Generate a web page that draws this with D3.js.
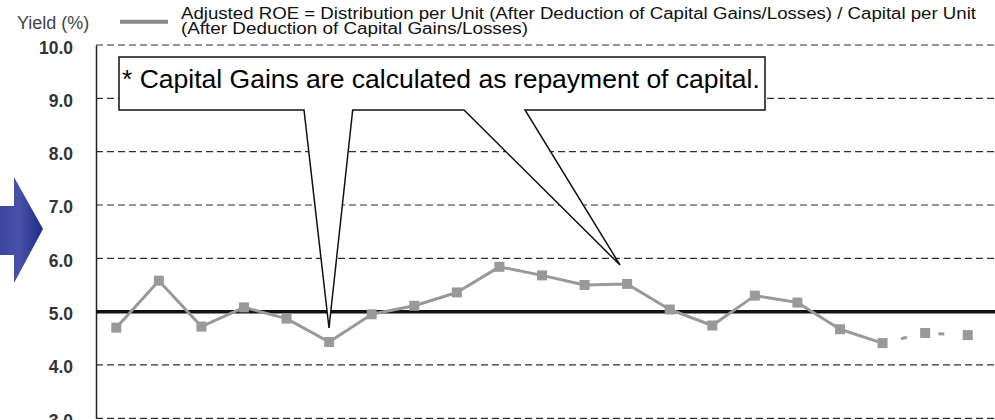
<!DOCTYPE html>
<html>
<head>
<meta charset="utf-8">
<script src="https://cdn.jsdelivr.net/npm/d3@7"></script>
<style>
  body { margin: 0; background: #fff; }
  svg { display: block; font-family: Arial, "Liberation Sans", sans-serif; }
</style>
</head>
<body>
<div id="roe-chart"></div>
<script>
// Adjusted ROE chart

// periods (no labels shown on the x axis)
const periods = [1, 2, 3, 4, 5, 6, 7, 8, 9, 10, 11, 12, 13, 14, 15, 16, 17, 18, 19, 20, 21];
// yield in %, the last two periods are forecasts
const roeValues = [4.70, 5.58, 4.72, 5.08, 4.87, 4.43, 4.95, 5.11, 5.36, 5.84, 5.68,
                   5.50, 5.52, 5.04, 4.74, 5.30, 5.17, 4.67, 4.41, 4.60, 4.56];
const forecastCount = 2;
const yTicks = [3.0, 4.0, 5.0, 6.0, 7.0, 8.0, 9.0, 10.0];
const targetLevel = 5.0;

const legendLines = [
    "Adjusted ROE = Distribution per Unit (After Deduction of Capital Gains/Losses) / Capital per Unit",
    "(After Deduction of Capital Gains/Losses)"
];
const calloutText = "* Capital Gains are calculated as repayment of capital.";

function createRoeChart() {
    const width = 995, height = 420;

    d3.select("#roe-chart").html("");

    const svg = d3.select("#roe-chart")
        .append("svg")
        .attr("width", width)
        .attr("height", height);

    // scales
    const x = d3.scalePoint()
        .domain(periods)
        .range([95, 989])
        .padding(0.5);

    const y = d3.scaleLinear()
        .domain([3, 10])
        .range([418.3, 45]);

    const plotLeft = 96, plotRight = width;

    // dashed gridlines
    svg.append("g")
        .selectAll("line")
        .data(yTicks)
        .enter()
        .append("line")
        .attr("x1", plotLeft)
        .attr("x2", plotRight)
        .attr("y1", d => y(d))
        .attr("y2", d => y(d))
        .attr("stroke", "#2e2e2e")
        .attr("stroke-width", 1.2)
        .attr("stroke-dasharray", "7,4");

    // y axis line + labels
    const yAxis = svg.append("g")
        .attr("transform", `translate(${plotLeft},0)`)
        .call(d3.axisLeft(y).tickValues(yTicks).tickSize(0).tickPadding(23).tickFormat(d3.format(".1f")));
    yAxis.select(".domain")
        .attr("stroke", "#222")
        .attr("stroke-width", 1.5);
    yAxis.selectAll("text")
        .attr("dy", null)
        .attr("y", 8)
        .style("font-family", "Arial, 'Liberation Sans', sans-serif")
        .style("font-size", "17.5px")
        .style("font-weight", "bold")
        .attr("fill", "#333");

    // axis title
    svg.append("text")
        .attr("x", 17)
        .attr("y", 28.5)
        .style("font-size", "18px")
        .attr("fill", "#444")
        .text("Yield (%)");

    // 5.0% reference line
    svg.append("line")
        .attr("x1", plotLeft)
        .attr("x2", plotRight)
        .attr("y1", y(targetLevel))
        .attr("y2", y(targetLevel))
        .attr("stroke", "#111")
        .attr("stroke-width", 3.5);

    // data line
    const points = periods.map((p, i) => ({period: p, value: roeValues[i]}));
    const splitAt = points.length - forecastCount - 1;
    const line = d3.line()
        .x(d => x(d.period))
        .y(d => y(d.value));

    svg.append("path")
        .attr("d", line(points.slice(0, splitAt + 1)))
        .attr("fill", "none")
        .attr("stroke", "#999")
        .attr("stroke-width", 3)
        .attr("stroke-linejoin", "round");

    svg.append("path")
        .attr("d", line(points.slice(splitAt)))
        .attr("fill", "none")
        .attr("stroke", "#999")
        .attr("stroke-width", 3)
        .attr("stroke-dasharray", "6,32")
        .attr("stroke-dashoffset", -19);

    const markerSize = 10;
    svg.selectAll(".marker")
        .data(points)
        .enter()
        .append("rect")
        .attr("class", "marker")
        .attr("x", d => x(d.period) - markerSize / 2)
        .attr("y", d => y(d.value) - markerSize / 2)
        .attr("width", markerSize)
        .attr("height", markerSize)
        .attr("fill", "#999");

    // legend
    svg.append("line")
        .attr("x1", 120)
        .attr("x2", 168)
        .attr("y1", 21.7)
        .attr("y2", 21.7)
        .attr("stroke", "#888")
        .attr("stroke-width", 4);

    const legendWidths = [795, 347];
    legendLines.forEach((t, i) => {
        svg.append("text")
            .attr("x", 181)
            .attr("y", 19.3 + i * 15)
            .attr("textLength", legendWidths[i])
            .attr("lengthAdjust", "spacingAndGlyphs")
            .style("font-size", "16px")
            .attr("fill", "#111")
            .text(t);
    });

    // left arrow
    const defs = svg.append("defs");
    const grad = defs.append("linearGradient")
        .attr("id", "arrow-grad")
        .attr("x1", "0%").attr("x2", "100%")
        .attr("y1", "0%").attr("y2", "0%");
    grad.append("stop").attr("offset", "0%").attr("stop-color", "#3a45a0");
    grad.append("stop").attr("offset", "45%").attr("stop-color", "#4851a7");
    grad.append("stop").attr("offset", "100%").attr("stop-color", "#1f2b8b");

    svg.append("path")
        .attr("d", "M0,206 L14,206 L14,177 L43,229 L14,283 L14,255 L0,255 Z")
        .attr("fill", "url(#arrow-grad)");

    // callout box with two pointers
    const callout = "M119,57 H765 V110 H525 L620,265 L464,110 H352.7 L329,328 L304,110 H119 Z";
    svg.append("path")
        .attr("d", callout)
        .attr("fill", "#fff")
        .attr("stroke", "#111")
        .attr("stroke-width", 1.5)
        .attr("stroke-linejoin", "miter");

    svg.append("text")
        .attr("x", 122)
        .attr("y", 88.3)
        .style("font-size", "26.5px")
        .attr("fill", "#000")
        .text(calloutText);
}

document.addEventListener('DOMContentLoaded', createRoeChart);
</script>
</body>
</html>
